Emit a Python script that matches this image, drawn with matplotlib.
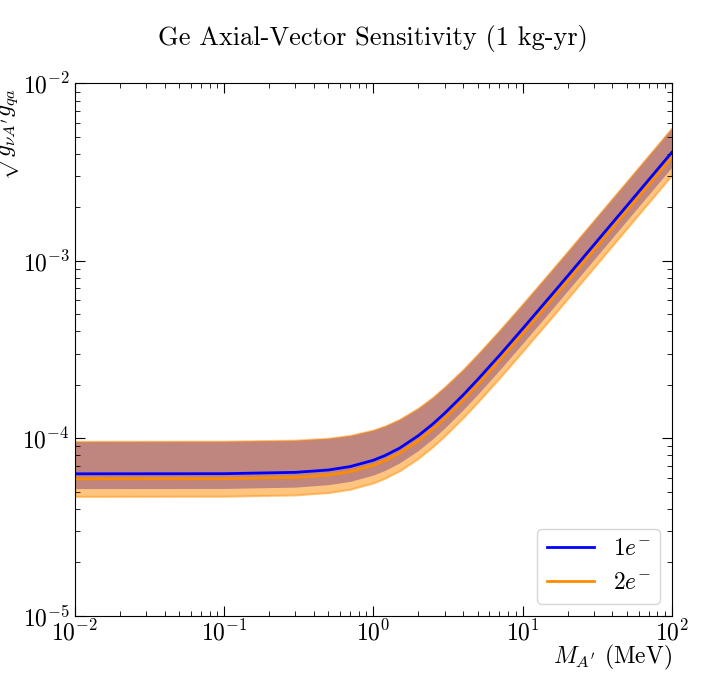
import matplotlib
matplotlib.use('Agg')
import matplotlib.pyplot as plt

plt.rcParams['font.family'] = 'serif'
plt.rcParams['font.serif'] = ['cmr10']
plt.rcParams['mathtext.fontset'] = 'cm'
plt.rcParams['axes.formatter.use_mathtext'] = True

# mass grid (MeV) and sensitivities (units of 1e-5)
mass = [0.01, 0.1, 0.3, 0.5, 0.7, 1, 1.2, 1.5, 2, 2.5, 3, 4, 5, 7, 10, 15, 20, 50, 100]
one_e = [6.3, 6.31, 6.42, 6.62, 6.92, 7.51, 7.99, 8.79, 10.33, 12.01, 13.8, 17.53, 21.4, 29.3, 41.4, 61.7, 82.0, 204.6, 409]
one_e_lo = [5.2, 5.21, 5.30, 5.47, 5.71, 6.20, 6.59, 7.26, 8.52, 9.92, 11.39, 14.47, 17.66, 24.2, 34.2, 50.9, 67.7, 168.9, 337.7]
two_e = [5.9, 5.91, 6.01, 6.20, 6.48, 7.03, 7.48, 8.24, 9.67, 11.25, 12.92, 16.42, 20.0, 27.46, 38.8, 57.8, 76.8, 191.6, 383]
two_e_lo = [4.7, 4.71, 4.79, 4.94, 5.16, 5.60, 5.96, 6.56, 7.70, 8.96, 10.29, 13.08, 15.97, 21.87, 30.9, 46.0, 61.2, 152.7, 305]
band_hi = [9.6, 9.62, 9.75, 10.0, 10.37, 11.12, 11.73, 12.77, 14.77, 17.0, 19.4, 24.4, 29.7, 40.5, 57.0, 84.8, 112.7, 280.9, 561.5]

sc = 1e-5
fig, ax = plt.subplots(figsize=(7.05, 6.84), dpi=100)
ax.fill_between(mass, [v * sc for v in one_e_lo], [v * sc for v in band_hi], color='blue', alpha=0.5, lw=0)
ax.fill_between(mass, [v * sc for v in two_e_lo], [v * sc for v in band_hi], color='darkorange', alpha=0.5, lw=1.5)
ax.plot(mass, [v * sc for v in two_e], color='darkorange', lw=2, label=r'$2e^{-}$')
ax.plot(mass, [v * sc for v in one_e], color='blue', lw=2, label=r'$1e^{-}$')

ax.set_xscale('log')
ax.set_yscale('log')
ax.set_xlim(1e-2, 1e2)
ax.set_ylim(1e-5, 1e-2)
ax.tick_params(which='both', direction='in', top=True, right=True, labelsize=17)
ax.tick_params(which='major', length=7)
ax.tick_params(which='minor', length=3.5)
ax.set_ylabel(r'$\sqrt{g_{\nu A^{\prime}}g_{qa}}$', fontsize=17, loc='top', labelpad=0)
ax.set_xlabel(r'$M_{A^{\prime}}$ (MeV)', fontsize=17, loc='right', labelpad=-2)
ax.set_title('Ge Axial-Vector Sensitivity (1 kg-yr)', fontsize=19, pad=28)

h, l = ax.get_legend_handles_labels()
ax.legend(h[::-1], l[::-1], loc='lower right', fontsize=17)

plt.subplots_adjust(left=0.106, right=0.953, top=0.878, bottom=0.1)
plt.savefig('out.png')
